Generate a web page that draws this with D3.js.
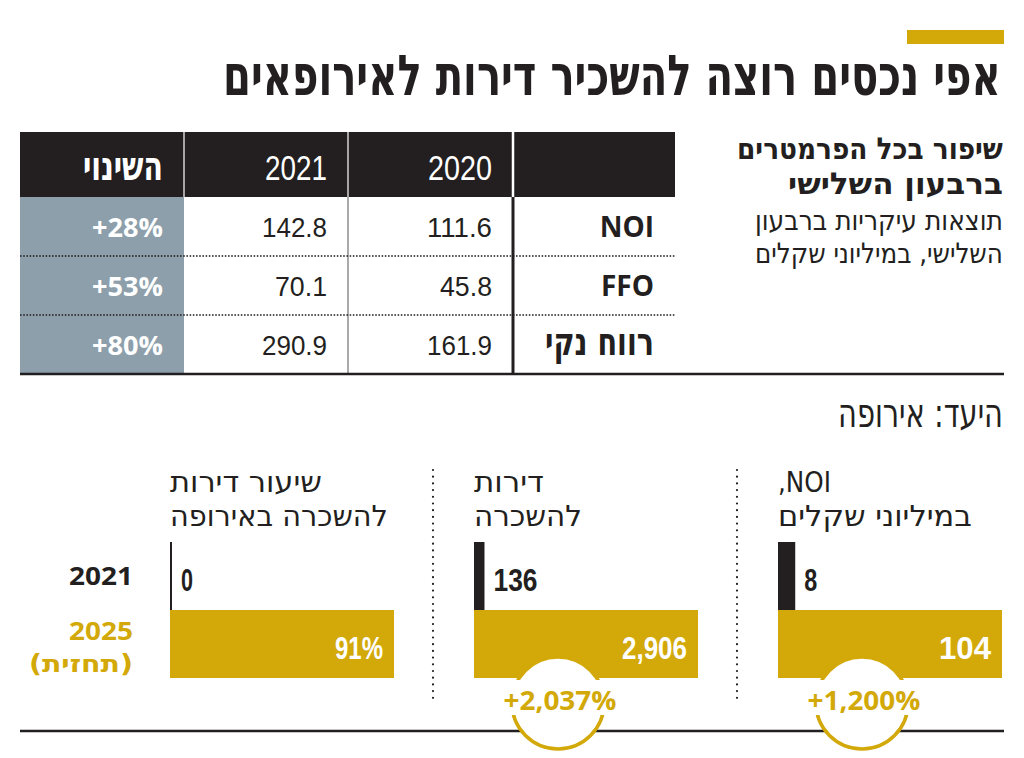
<!DOCTYPE html>
<html lang="he">
<head>
<meta charset="utf-8">
<script src="https://cdn.jsdelivr.net/npm/d3@7/dist/d3.min.js"></script>
<style>
html,body{margin:0;padding:0;background:#fff;}
svg{display:block;}
</style>
</head>
<body>
<svg id="chart" width="1024" height="758"></svg>
<script>
// ---------- DATA ----------
const title = "אפי נכסים רוצה להשכיר דירות לאירופאים";
const sideTitle = ["שיפור בכל הפרמטרים", "ברבעון השלישי"];
const sideSubtitle = ["תוצאות עיקריות ברבעון", "השלישי, במיליוני שקלים"];
const tableHeaders = ["השינוי", "2021", "2020", ""];
const tableRows = ["NOI", "FFO", "רווח נקי"];
const values2020 = [111.6, 45.8, 161.9];
const values2021 = [142.8, 70.1, 290.9];
const changes = ["+28%", "+53%", "+80%"];

const sectionTitle = "היעד: אירופה";
const years = ["2021", "2025"];
const yearLabels = [["2021"], ["2025", "(תחזית)"]];
const panelKeys = ["rate", "apts", "noi"];
const panelTitles = [["שיעור דירות", "להשכרה באירופה"], ["דירות", "להשכרה"], ["NOI,", "במיליוני שקלים"]];
const panel2021 = [0, 136, 8];
const panel2025 = [91, 2906, 104];
const panelLabels2021 = ["0", "136", "8"];
const panelLabels2025 = ["91%", "2,906", "104"];
const panelGrowth = [null, "+2,037%", "+1,200%"];

// ---------- STYLE ----------
const GOLD = "#d3a90a", BLACK = "#231f20", GREY = "#8d9fab";
const HEB = "'DejaVu Sans Condensed','DejaVu Sans',sans-serif";
const NARROW = "'Liberation Sans Narrow','Liberation Sans',sans-serif";
const BOLDSANS = "'Open Sans','Noto Sans',sans-serif";

const svg = d3.select("#chart");

// Text helper: if o.len is given the text is fitted horizontally to that width with a scale transform.
function txt(g, o) {
  const t = g.append("text")
    .attr("font-family", o.family || HEB)
    .attr("font-size", o.size)
    .attr("font-weight", o.weight || "normal")
    .attr("fill", o.fill || BLACK)
    .text(o.text);
  if (o.dir) t.attr("direction", o.dir);
  if (!o.len) {
    t.attr("x", o.x).attr("y", o.y).attr("text-anchor", o.anchor || "start");
    return t;
  }
  // place left-aligned at local origin, then measure and scale
  t.attr("x", 0).attr("y", 0).attr("text-anchor", o.dir === "rtl" ? "end" : "start");
  const w = t.node().getComputedTextLength() || o.len;
  const sx = o.len / w;
  let left = o.x;
  if (o.anchor === "end") left = o.x - o.len;
  else if (o.anchor === "middle") left = o.x - o.len / 2;
  t.attr("transform", `translate(${left},${o.y}) scale(${sx},1)`);
  return t;
}

// ---------- HEADER ----------
svg.append("rect").attr("x", 907).attr("y", 30).attr("width", 97).attr("height", 14).attr("fill", GOLD);
txt(svg, {x: 1001, y: 95, text: title, size: 56, weight: "bold", anchor: "end", len: 778});

// side block
const sideG = svg.append("g");
txt(sideG, {x: 1003, y: 159, text: sideTitle[0], size: 30, weight: "bold", anchor: "end", len: 266});
txt(sideG, {x: 1003, y: 194, text: sideTitle[1], size: 30, weight: "bold", anchor: "end", len: 215});
txt(sideG, {x: 1003, y: 230, text: sideSubtitle[0], size: 28, anchor: "end", len: 248});
txt(sideG, {x: 1003, y: 263, text: sideSubtitle[1], size: 28, anchor: "end", len: 248});

// ---------- TABLE ----------
const tab = svg.append("g");
const colX = d3.scalePoint().domain(d3.range(5)).range([20, 676]); // column edges
const rowY = d3.scaleBand().domain(tableRows).range([197, 374]);
tab.append("rect").attr("x", 20).attr("y", 132).attr("width", 655).attr("height", 65).attr("fill", BLACK);
tab.append("rect").attr("x", 20).attr("y", 197).attr("width", colX(1) - 20).attr("height", 177).attr("fill", GREY);
[1, 2].forEach(i => tab.append("line").attr("x1", colX(i)).attr("x2", colX(i)).attr("y1", 132).attr("y2", 197).attr("stroke", "#fff").attr("stroke-width", 1.2));
tab.append("line").attr("x1", colX(3) + 1).attr("x2", colX(3) + 1).attr("y1", 132).attr("y2", 197).attr("stroke", "#fff").attr("stroke-width", 2.5);
tab.append("line").attr("x1", colX(2)).attr("x2", colX(2)).attr("y1", 197).attr("y2", 374).attr("stroke", "#555").attr("stroke-width", 1);
tab.append("line").attr("x1", colX(3) + 1).attr("x2", colX(3) + 1).attr("y1", 197).attr("y2", 374).attr("stroke", BLACK).attr("stroke-width", 3);
tableRows.slice(1).forEach(r => tab.append("line").attr("x1", 20).attr("x2", 675)
  .attr("y1", rowY(r)).attr("y2", rowY(r)).attr("stroke", BLACK).attr("stroke-width", 1.6).attr("stroke-dasharray", "1.6,1.6"));
svg.append("line").attr("x1", 20).attr("x2", 1004).attr("y1", 374).attr("y2", 374).attr("stroke", BLACK).attr("stroke-width", 2.5);

txt(tab, {x: 163, y: 180, text: tableHeaders[0], size: 40, weight: "bold", fill: "#fff", anchor: "end", len: 80});
txt(tab, {x: 327, y: 180, text: tableHeaders[1], size: 36, family: NARROW, fill: "#fff", anchor: "end", len: 62});
txt(tab, {x: 492, y: 180, text: tableHeaders[2], size: 36, family: NARROW, fill: "#fff", anchor: "end", len: 64});

const fmt = d3.format(".1f");
tableRows.forEach((r, i) => {
  const base = rowY(r) + rowY.bandwidth() / 2 + 10;
  txt(tab, {x: 163, y: base, text: changes[i], size: 27, weight: "bold", family: BOLDSANS, fill: "#fff", anchor: "end", len: 71});
  txt(tab, {x: 327, y: base, text: fmt(values2021[i]), size: 28, family: NARROW, anchor: "end", len: fmt(values2021[i]).length * 13});
  txt(tab, {x: 492, y: base, text: fmt(values2020[i]), size: 28, family: NARROW, anchor: "end", len: fmt(values2020[i]).length * 13});
  if (i < 2) txt(tab, {x: 654, y: base, text: r, size: 28, weight: "bold", family: BOLDSANS, anchor: "end"});
  else txt(tab, {x: 654, y: base, text: r, size: 38, weight: "bold", anchor: "end", len: 109});
});

// ---------- SECTION ----------
txt(svg, {x: 1003, y: 427, text: sectionTitle, size: 40, anchor: "end", len: 165});

const panelX = d3.scaleBand().domain(panelKeys).range([170, 1082]);
const barW = 224;
const yBand = d3.scaleBand().domain(years).range([542, 678]);

[panelX("apts"), panelX("noi")].forEach(px => {
  svg.append("line").attr("x1", px - 41).attr("x2", px - 41).attr("y1", 470).attr("y2", 704)
    .attr("stroke", BLACK).attr("stroke-width", 2.2).attr("stroke-linecap", "round").attr("stroke-dasharray", "0,6.7");
});

svg.append("line").attr("x1", 20).attr("x2", 1004).attr("y1", 731).attr("y2", 731).attr("stroke", BLACK).attr("stroke-width", 2.5);

txt(svg, {x: 133, y: 585, text: yearLabels[0][0], size: 25, weight: "bold", family: BOLDSANS, anchor: "end", len: 64});
txt(svg, {x: 133, y: 640, text: yearLabels[1][0], size: 25, weight: "bold", family: BOLDSANS, anchor: "end", len: 64, fill: GOLD});
txt(svg, {x: 133, y: 672, text: yearLabels[1][1], size: 24, weight: "bold", family: HEB, anchor: "end", len: 104, fill: GOLD});

const lab21Len = {"0": 12, "136": 44, "8": 13};
const lab25Len = {"91%": 48, "2,906": 65, "104": 52};
panelKeys.forEach((k, i) => {
  const g = svg.append("g").attr("transform", `translate(${panelX(k)},0)`);
  const x = d3.scaleLinear().domain([0, d3.max([panel2021[i], panel2025[i]])]).range([0, barW]);
  const tl = [[152, 218], [70, 108], [53, 194]][i];
  const isLatin = panelTitles[i][0] === "NOI,";
  // "NOI," sits in a right-to-left line, so its comma shows on the left
  txt(g, {x: 0, y: 492, text: panelTitles[i][0], size: 29, dir: isLatin ? "rtl" : null, anchor: "start", len: tl[0]});
  txt(g, {x: 0, y: 526, text: panelTitles[i][1], size: 29, anchor: "start", len: tl[1]});
  const w21 = Math.max(x(panel2021[i]), 2);
  g.append("rect").attr("x", 0).attr("y", yBand("2021")).attr("width", w21).attr("height", yBand.bandwidth()).attr("fill", BLACK);
  txt(g, {x: w21 + 9, y: 591, text: panelLabels2021[i], size: 32, weight: "bold", family: NARROW, len: lab21Len[panelLabels2021[i]]});
  g.append("rect").attr("x", 0).attr("y", yBand("2025")).attr("width", x(panel2025[i])).attr("height", yBand.bandwidth()).attr("fill", GOLD);
  txt(g, {x: x(panel2025[i]) - 11, y: 659, text: panelLabels2025[i], size: 32, weight: "bold", family: NARROW, fill: "#fff", anchor: "end", len: lab25Len[panelLabels2025[i]]});
  if (panelGrowth[i]) {
    const cx = 84;
    g.append("circle").attr("cx", cx).attr("cy", 703).attr("r", 46).attr("fill", "#fff").attr("stroke", GOLD).attr("stroke-width", 3.5);
    g.append("rect").attr("x", cx - 60).attr("y", 680).attr("width", 120).attr("height", 35).attr("fill", "#fff");
    txt(g, {x: cx + 2, y: 710, text: panelGrowth[i], size: 26, weight: "bold", family: BOLDSANS, fill: GOLD, anchor: "middle", len: 113});
  }
});
</script>
</body>
</html>
